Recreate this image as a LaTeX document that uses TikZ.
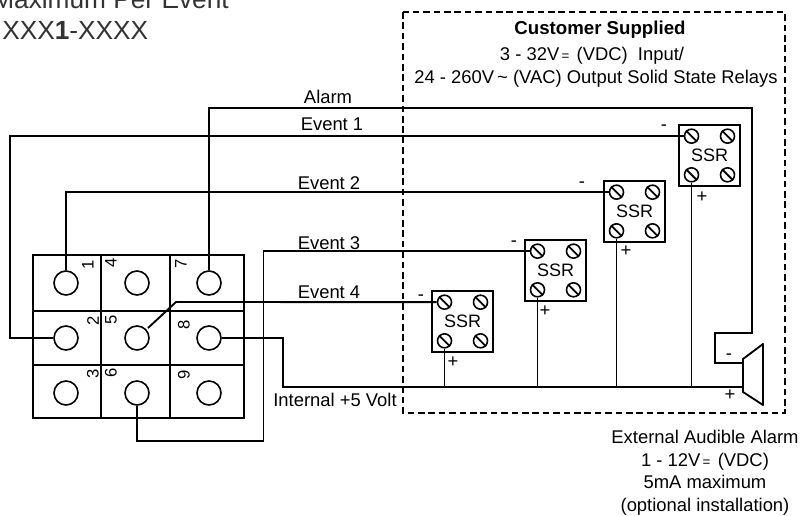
\documentclass[tikz,border=0pt]{standalone}
\usepackage{fontspec}
\setmainfont{Liberation Sans}
\tikzset{
  wire/.style = {black, line width = 1.4pt},
  keypad/.style = {draw, black, line width = 1.4pt, minimum width = 158.25pt, minimum height = 122.25pt, inner sep = 0pt},
  padhole/.style = {draw, circle, black, line width = 1.2pt, minimum size = 18pt, inner sep = 0pt},
  padnum/.style = {font = \fontsize{12.5pt}{12.5pt}\selectfont, rotate = 90, inner sep = 0pt},
  ssrbox/.style = {draw, black, line width = 1.4pt, minimum size = 45.75pt, inner sep = 0pt, font = \fontsize{13.5pt}{13.5pt}\selectfont},
  screw/.style = {draw, circle, black, line width = 1.2pt, minimum size = 10.5pt, inner sep = 0pt},
  lbl/.style = {font = \fontsize{13.8pt}{13.8pt}\selectfont, inner sep = 0pt, anchor = base},
  pol/.style = {font = \fontsize{13.8pt}{13.8pt}\selectfont, inner sep = 0pt}
}
\newcommand{\dcmark}{{\fontsize{10pt}{10pt}\selectfont\,=\,}}
\newcommand{\acmark}{{\,\char"7E}}
\begin{document}
\begin{tikzpicture}[x = 0.75pt, y = -0.75pt]
    \useasboundingbox (0,0) rectangle (802,516);
    \node[font = \fontsize{19.7pt}{19.7pt}\selectfont, text = black!80, inner sep = 0pt, anchor = base east] (maxtitle) at (229,9) {Maximum Per Event};
    \node[font = \fontsize{19.7pt}{19.7pt}\selectfont, text = black!80, inner sep = 0pt, anchor = base west] (parttitle) at (2,40) {XXX\textbf{1}-XXXX};

    \draw[black, line width = 1.1pt, dash pattern = on 5pt off 2.8pt] (403,12) rectangle (785,413);
    \node[lbl, font = \fontsize{14pt}{14pt}\selectfont\bfseries] (suppliedA) at (600,35) {Customer Supplied};
    \node[lbl] (suppliedB) at (592,61) {3 - 32V\dcmark{} (VDC)~ Input/};
    \node[lbl] (suppliedC) at (596,84) {24 - 260V\acmark{} (VAC) Output Solid State Relays};

    \node[keypad] (pad) at (138.5,336.5) {};
    \draw[black, line width = 0.8pt] (101,255) -- (101,418);
    \draw[black, line width = 0.8pt] (170,255) -- (170,418);
    \draw[black, line width = 0.8pt] (33,311) -- (244,311);
    \draw[black, line width = 0.8pt] (33,365) -- (244,365);

    \foreach \n/\x/\y in {1/66/283, 2/66/338, 3/66/393, 4/137/283, 5/137/338, 6/137/393, 7/209/283, 8/209/338, 9/209/393}
        \node[padhole] (hole\n) at (\x,\y) {};
    \foreach \n/\x/\y in {1/88/265, 2/93/321, 3/93/374, 4/111/263, 5/111/320, 6/111/373, 7/181/264, 8/184/325, 9/184/375}
        \node[padnum] (num\n) at (\x,\y) {\n};

    \foreach \s/\x/\y in {a/709.5/155.5, b/634.5/211.5, c/555.5/270.5, d/462.5/321.5} {
        \node[ssrbox] (ssr\s) at (\x,\y) {SSR};
        \node[screw] (\s m) at ([xshift = -13.5pt, yshift = 14.5pt]ssr\s.center) {};
        \node[screw] (\s n) at ([xshift = 13.5pt, yshift = 14.5pt]ssr\s.center) {};
        \node[screw] (\s p) at ([xshift = -13.5pt, yshift = -14.5pt]ssr\s.center) {};
        \node[screw] (\s q) at ([xshift = 13.5pt, yshift = -14.5pt]ssr\s.center) {};
        \foreach \t in {m,n,p,q}
            \draw[wire] (\s\t.north west) -- (\s\t.south east);
    }

    \coordinate (spkm) at (743,363);
    \coordinate (spkp) at (743,387);
    \draw[wire, line join = round] (743,359) -- (763,344) -- (763,405) -- (743,392) -- cycle;

    \draw[wire] (hole7.north) |- (752,108) |- (715,333) |- (spkm);
    \draw[wire] (hole2.west) -- (10,338) |- (am.west);
    \draw[wire] (hole1.north) |- (bm.west);
    \draw[wire] (hole6.south) |- (263.5,441) |- (cm.west);
    \draw[wire] (148,328) -- (176,302) -- (dm.west);
    \draw[wire] (hole8.east) -- (283,338) |- (spkp);
    \foreach \s in {a,b,c,d}
        \draw[wire] (\s p.south) -- (\s p.south |- spkp);

    \node[lbl] (alarmlbl) at (328,104) {Alarm};
    \node[lbl] (evtA) at (332,131) {Event 1};
    \node[lbl] (evtB) at (329,190) {Event 2};
    \node[lbl] (evtC) at (329,250) {Event 3};
    \node[lbl] (evtD) at (329,298) {Event 4};
    \node[lbl] (internal) at (335,406) {Internal +5 Volt};

    \node[pol] (minA) at (664,128) {-};
    \node[pol] (minB) at (582,185) {-};
    \node[pol] (minC) at (514,244) {-};
    \node[pol] (minD) at (421,298) {-};
    \node[pol] (minS) at (729,357) {-};
    \node[pol] (plusA) at (702,197) {+};
    \node[pol] (plusB) at (626,251) {+};
    \node[pol] (plusC) at (545,311) {+};
    \node[pol] (plusD) at (453,362) {+};
    \node[pol] (plusS) at (730,395) {+};

    \node[lbl] (extA) at (705,443) {External Audible Alarm};
    \node[lbl] (extB) at (705,466) {1 - 12V\dcmark{} (VDC)};
    \node[lbl] (extC) at (705,488) {5mA maximum};
    \node[lbl] (extD) at (705,511) {(optional installation)};
\end{tikzpicture}
\end{document}
